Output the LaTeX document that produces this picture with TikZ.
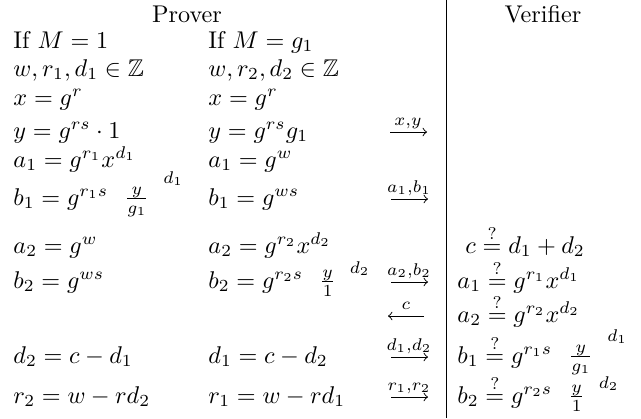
\documentclass[tikz,border=0pt]{standalone}
\usepackage{amsmath,amssymb}
\newcommand{\ghostfrac}[2]{\left.\vphantom{\left(\frac{#1}{#2}\right)}\hphantom{(}\frac{#1}{#2}\hphantom{\big)}\right.}
\newcommand{\qeq}{\overset{?}{=}}

\begin{document}
\begin{tikzpicture}[x=0.413pt,y=-0.413pt]
\tikzset{
  cell/.style={anchor=base west,inner sep=0pt},
  head/.style={anchor=base,inner sep=0pt},
  msg/.style={->,line width=0.4pt},
  msglabel/.style={anchor=base,inner sep=0pt}
}
\useasboundingbox (0,0) rectangle (641,418);
\node[head] (h_P) at (187,22) {Prover};
\node[head] (h_V) at (543,22) {Verifier};
\coordinate (rule_top) at (446,0);
\coordinate (rule_bot) at (446,418);
\draw[line width=0.4pt] (rule_top) -- (rule_bot);
\node[cell] (p_A1) at (13,48) {If $M = 1$};
\node[cell] (p_B1) at (208,48) {If $M = g_1$};
\node[cell] (p_A2) at (13,76) {$w, r_1, d_1 \in \mathbb{Z}$};
\node[cell] (p_B2) at (208,76) {$w, r_2, d_2 \in \mathbb{Z}$};
\node[cell] (p_A3) at (13,105) {$x = g^r$};
\node[cell] (p_B3) at (208,105) {$x = g^r$};
\node[cell] (p_A4) at (13,138) {$y = g^{rs}\cdot 1$};
\node[cell] (p_B4) at (208,138) {$y = g^{rs}g_1$};
\node[cell] (p_A5) at (13,167) {$a_1 = g^{r_1}x^{d_1}$};
\node[cell] (p_B5) at (208,167) {$a_1 = g^w$};
\node[cell] (p_A6) at (13,205) {$b_1 = g^{r_1 s}\ghostfrac{y}{g_1}^{d_1}$};
\node[cell] (p_B6) at (208,205) {$b_1 = g^{ws}$};
\node[cell] (p_A7) at (13,253) {$a_2 = g^w$};
\node[cell] (p_B7) at (208,253) {$a_2 = g^{r_2}x^{d_2}$};
\node[cell] (p_A8) at (13,288) {$b_2 = g^{ws}$};
\node[cell] (p_B8) at (208,288) {$b_2 = g^{r_2 s}\ghostfrac{y}{1}^{d_2}$};
\node[cell] (p_A10) at (13,363) {$d_2 = c - d_1$};
\node[cell] (p_B10) at (208,363) {$d_1 = c - d_2$};
\node[cell] (p_A11) at (13,403) {$r_2 = w - rd_2$};
\node[cell] (p_B11) at (208,403) {$r_1 = w - rd_1$};
\node[cell] (v_7) at (465,253) {$c \qeq d_1 + d_2$};
\node[cell] (v_8) at (457,288) {$a_1 \qeq g^{r_1}x^{d_1}$};
\node[cell] (v_9) at (457,322) {$a_2 \qeq g^{r_2}x^{d_2}$};
\node[cell] (v_10) at (457,363) {$b_1 \qeq g^{r_1 s}\ghostfrac{y}{g_1}^{d_1}$};
\node[cell] (v_11) at (457,403) {$b_2 \qeq g^{r_2 s}\ghostfrac{y}{1}^{d_2}$};
\coordinate (m_xyL) at (390,132);
\coordinate (m_xyR) at (427,132);
\coordinate (m_abL) at (391,199);
\coordinate (m_abR) at (428,199);
\coordinate (m_ab2L) at (391,282);
\coordinate (m_ab2R) at (428,282);
\coordinate (m_cL) at (388,316);
\coordinate (m_cR) at (424,316);
\coordinate (m_dL) at (391,357);
\coordinate (m_dR) at (428,357);
\coordinate (m_rL) at (391,397);
\coordinate (m_rR) at (428,397);
\node[msglabel] (l_xy) at (408,125) {$\scriptstyle x,y$};
\node[msglabel] (l_ab) at (409,192) {$\scriptstyle a_1,b_1$};
\node[msglabel] (l_ab2) at (409,275) {$\scriptstyle a_2,b_2$};
\node[msglabel] (l_c) at (406,309) {$\scriptstyle c$};
\node[msglabel] (l_d) at (409,350) {$\scriptstyle d_1,d_2$};
\node[msglabel] (l_r) at (409,390) {$\scriptstyle r_1,r_2$};
\draw[msg] (m_xyL) -- (m_xyR);
\draw[msg] (m_abL) -- (m_abR);
\draw[msg] (m_ab2L) -- (m_ab2R);
\draw[msg] (m_cR) -- (m_cL);
\draw[msg] (m_dL) -- (m_dR);
\draw[msg] (m_rL) -- (m_rR);
\end{tikzpicture}
\end{document}
